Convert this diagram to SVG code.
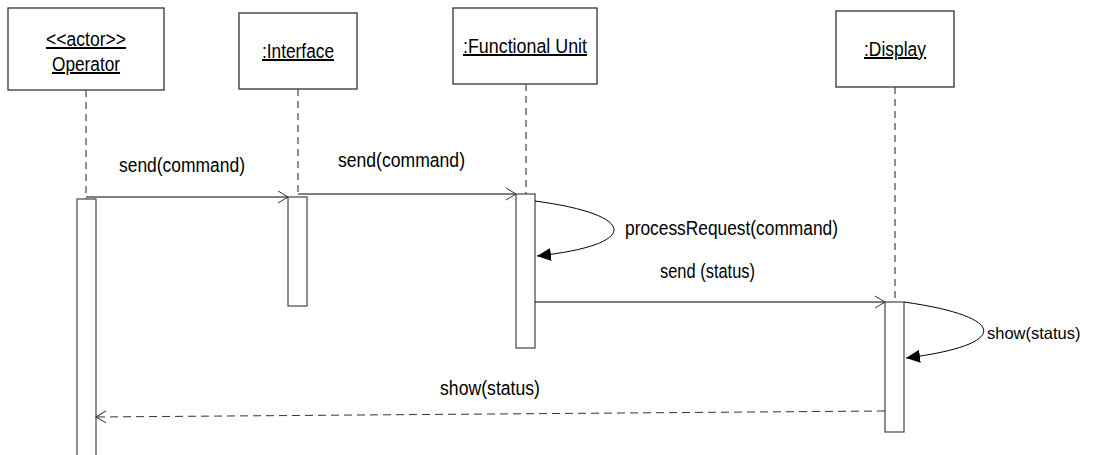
<svg xmlns="http://www.w3.org/2000/svg" width="1094" height="455" viewBox="0 0 1094 455">
<defs>
<style>
.box{fill:#fff;stroke:#333;stroke-width:1.3}
.life{stroke:#444;stroke-width:1.2;stroke-dasharray:7,5;fill:none}
.bar{fill:#fff;stroke:#444;stroke-width:1.2}
.msg{stroke:#000;stroke-width:1;fill:none}
.ret{stroke:#333;stroke-width:1;fill:none;stroke-dasharray:8,5}
text{font-family:"Liberation Sans",Arial,sans-serif;font-size:20px;fill:#000}
.u{text-decoration:underline;text-anchor:middle}
</style>
<marker id="open" markerWidth="12" markerHeight="14" refX="11" refY="7" orient="auto" markerUnits="userSpaceOnUse">
<path d="M1,1 L11,7 L1,13" fill="none" stroke="#333" stroke-width="1"/>
</marker>
<marker id="filled" markerWidth="15" markerHeight="15" refX="14" refY="7.5" orient="auto" markerUnits="userSpaceOnUse">
<path d="M0,1 L14,7.5 L0,14 Z" fill="#000"/>
</marker>
</defs>
<rect width="1094" height="455" fill="#fff"/>

<g id="operator">
<rect class="box" x="8" y="8" width="156" height="82"/>
<text class="u" x="86" y="46" textLength="80" lengthAdjust="spacingAndGlyphs">&lt;&lt;actor&gt;&gt;</text>
<text class="u" x="86" y="71" textLength="68" lengthAdjust="spacingAndGlyphs">Operator</text>
<line class="life" x1="86" y1="90" x2="86" y2="199"/>
<rect class="bar" x="77" y="199" width="19" height="262"/>
</g>

<g id="interface">
<rect class="box" x="239" y="13" width="118" height="76"/>
<text class="u" x="298" y="58" textLength="72" lengthAdjust="spacingAndGlyphs">:Interface</text>
<line class="life" x1="298" y1="89" x2="298" y2="196"/>
<rect class="bar" x="288" y="197" width="19" height="109"/>
</g>

<g id="functional-unit">
<rect class="box" x="453" y="8" width="144" height="76"/>
<text class="u" x="525" y="53" textLength="124" lengthAdjust="spacingAndGlyphs">:Functional Unit</text>
<line class="life" x1="526" y1="84" x2="526" y2="194"/>
<rect class="bar" x="516" y="194" width="19" height="154"/>
</g>

<g id="display">
<rect class="box" x="836" y="11" width="118" height="76"/>
<text class="u" x="895" y="56" textLength="62" lengthAdjust="spacingAndGlyphs">:Display</text>
<line class="life" x1="895" y1="87" x2="895" y2="302"/>
<rect class="bar" x="885" y="302" width="19" height="130"/>
</g>

<g id="connectors">
<line class="msg" x1="86" y1="197" x2="288" y2="197" marker-end="url(#open)"/>
<text x="119" y="172" textLength="126" lengthAdjust="spacingAndGlyphs">send(command)</text>

<line class="msg" x1="298" y1="194" x2="516" y2="194" marker-end="url(#open)"/>
<text x="338" y="167" textLength="127" lengthAdjust="spacingAndGlyphs">send(command)</text>

<path class="msg" d="M535,201 C640,215 640,245 537,256" marker-end="url(#filled)"/>
<text x="625" y="235" textLength="213" lengthAdjust="spacingAndGlyphs">processRequest(command)</text>

<line class="msg" x1="535" y1="302" x2="885" y2="302" marker-end="url(#open)"/>
<text x="660" y="278" textLength="95" lengthAdjust="spacingAndGlyphs">send (status)</text>

<path class="msg" d="M904,302 C1010,317 1010,345 906,358" marker-end="url(#filled)"/>
<text x="987" y="339" style="font-size:16.5px">show(status)</text>

<line class="ret" x1="885" y1="411" x2="96" y2="417" marker-end="url(#open)"/>
<text x="440" y="395" textLength="100" lengthAdjust="spacingAndGlyphs">show(status)</text>
</g>
</svg>
